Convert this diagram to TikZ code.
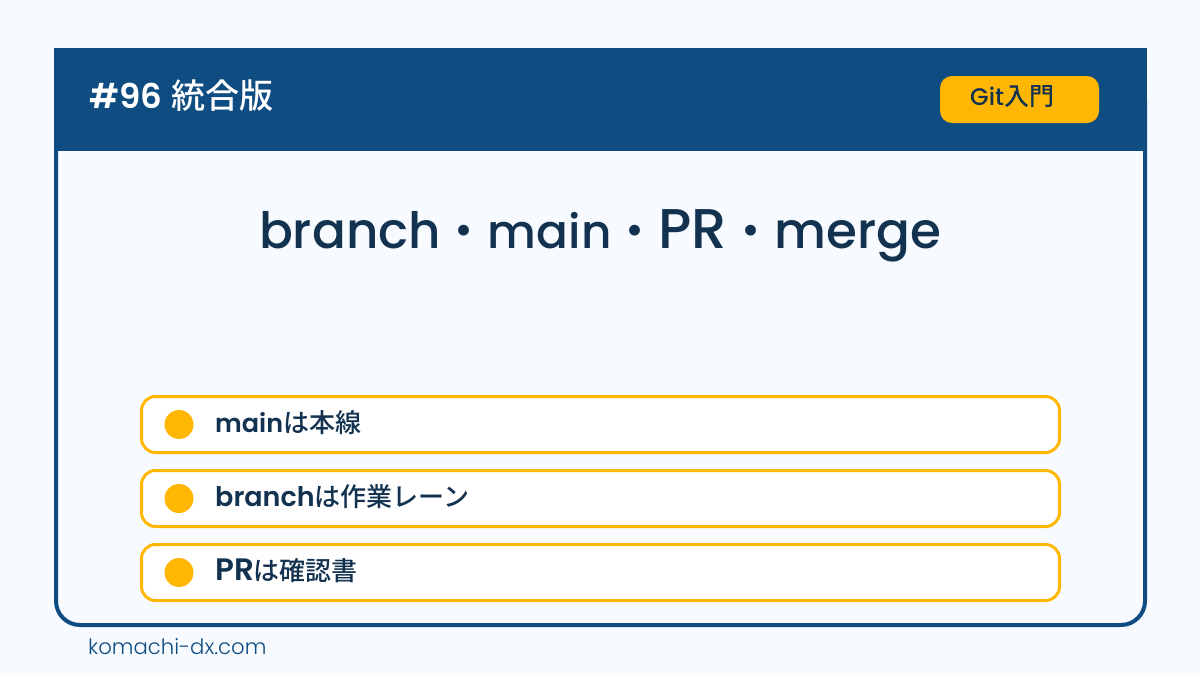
\documentclass[tikz,border=0pt]{standalone}
\usepackage{fontspec}
\setmainfont{Noto Sans CJK JP}
\newfontfamily\medf{Noto Sans CJK JP Medium}
\newfontfamily\latf{Poppins Medium}
\newfontfamily\semif{Poppins SemiBold}
\newfontfamily\lightf{Poppins Light}
\definecolor{navy}{HTML}{0F4C81}
\definecolor{amber}{HTML}{FFB703}
\definecolor{ink}{HTML}{12324F}
\definecolor{paper}{HTML}{F7FBFF}
\tikzset{
  panelline/.style={draw=navy,line width=4pt},
  rowbox/.style={draw=amber,line width=3pt,fill=white,rounded corners=14pt,minimum width=918pt,minimum height=56pt,anchor=north west,inner sep=0pt,outer sep=0pt},
  rowdot/.style={circle,fill=amber,minimum size=29pt,inner sep=0pt,outer sep=0pt},
  rowtext/.style={anchor=west,inner sep=0pt,text=ink},
}
\newcommand{\lat}[2]{{\latf\fontsize{#1}{#1}\selectfont #2}}
\newcommand{\sem}[2]{{\semif\fontsize{#1}{#1}\selectfont #2}}
\newcommand{\cj}[2]{{\medf\fontsize{#1}{#1}\selectfont #2}}
\begin{document}
\begin{tikzpicture}[x=1pt,y=-1pt]
\useasboundingbox (0,0) rectangle (1200,675);
\fill[paper] (0,0) rectangle (1200,675);
\draw[panelline,rounded corners=24pt] (56,100) -- (56,625) -- (1145,625) -- (1145,100);
\fill[navy] (54,48) rectangle (1147,151);
\node[anchor=west,inner sep=0pt,text=white] (head) at (89,96) {\sem{34}{\#96}\hspace{9pt}\cj{34}{統合版}};
\node[fill=amber,rounded corners=12pt,minimum width=159pt,minimum height=47pt,inner sep=0pt,outer sep=0pt,anchor=north west] (badge) at (940,76) {};
\node[anchor=west,inner sep=0pt,text=ink] (badgetext) at (970,97) {\lat{24}{Git}\cj{25}{入門}};
\node[inner sep=0pt,text=ink] (title) at (600,236) {\lat{50}{branch}\cj{47}{・}\lat{47}{main}\cj{47}{・}\lat{56}{PR}\cj{47}{・}\lat{50}{merge}};
\node[rowbox] (r1) at (141.5,396.5) {};
\node[rowbox] (r2) at (141.5,470.5) {};
\node[rowbox] (r3) at (141.5,544.5) {};
\node[rowdot] (d1) at (179,424.5) {};
\node[rowdot] (d2) at (179,498.5) {};
\node[rowdot] (d3) at (179,572.5) {};
\node[rowtext] (t1) at (215,423) {\sem{25.5}{main}\cj{26}{は本線}};
\node[rowtext] (t2) at (215,497) {\sem{27}{branch}\cj{26}{は作業レーン}};
\node[rowtext] (t3) at (215,571) {\sem{31}{PR}\cj{26}{は確認書}};
\node[anchor=west,inner sep=0pt,text=navy,font=\lightf\fontsize{21.2}{26}\selectfont] (url) at (88,647) {komachi-dx.com};
\end{tikzpicture}
\end{document}
